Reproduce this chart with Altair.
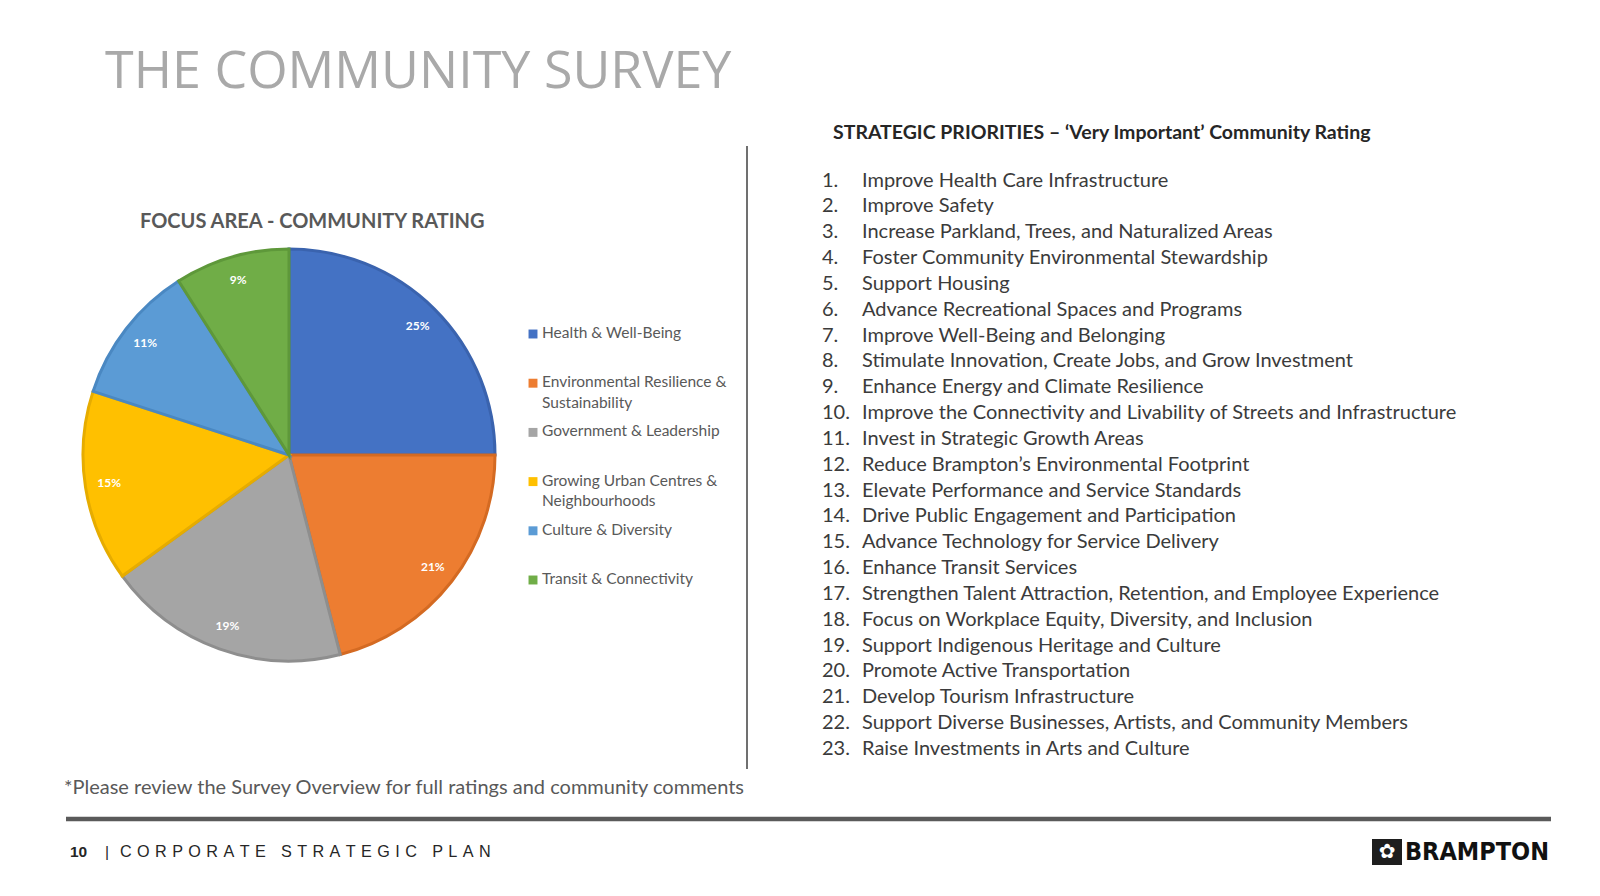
import altair as alt
import pandas as pd

# ---------------- data ----------------
TITLE = "THE COMMUNITY SURVEY"
PIE_TITLE = "FOCUS AREA - COMMUNITY RATING"
LIST_TITLE = "STRATEGIC PRIORITIES – ‘Very Important’ Community Rating"
FOOTNOTE = "*Please review the Survey Overview for full ratings and community comments"
PAGE_NUM = "10"
FOOTER = "CORPORATE STRATEGIC PLAN"
BRAND = "BRAMPTON"

focus_areas = [
    "Health & Well-Being",
    "Environmental Resilience & Sustainability",
    "Government & Leadership",
    "Growing Urban Centres & Neighbourhoods",
    "Culture & Diversity",
    "Transit & Connectivity",
]
legend_labels = [
    "Health & Well-Being",
    "Environmental Resilience &\nSustainability",
    "Government & Leadership",
    "Growing Urban Centres &\nNeighbourhoods",
    "Culture & Diversity",
    "Transit & Connectivity",
]
shares = [25, 21, 19, 15, 11, 9]
colors = ["#4472C4", "#ED7D31", "#A5A5A5", "#FFC000", "#5B9BD5", "#70AD47"]
edges = ["#3A63AE", "#D46A22", "#8E8E8E", "#E6AC00", "#4A88C2", "#5E983A"]

priorities = [
    "Improve Health Care Infrastructure",
    "Improve Safety",
    "Increase Parkland, Trees, and Naturalized Areas",
    "Foster Community Environmental Stewardship",
    "Support Housing",
    "Advance Recreational Spaces and Programs",
    "Improve Well-Being and Belonging",
    "Stimulate Innovation, Create Jobs, and Grow Investment",
    "Enhance Energy and Climate Resilience",
    "Improve the Connectivity and Livability of Streets and Infrastructure",
    "Invest in Strategic Growth Areas",
    "Reduce Brampton’s Environmental Footprint",
    "Elevate Performance and Service Standards",
    "Drive Public Engagement and Participation",
    "Advance Technology for Service Delivery",
    "Enhance Transit Services",
    "Strengthen Talent Attraction, Retention, and Employee Experience",
    "Focus on Workplace Equity, Diversity, and Inclusion",
    "Support Indigenous Heritage and Culture",
    "Promote Active Transportation",
    "Develop Tourism Infrastructure",
    "Support Diverse Businesses, Artists, and Community Members",
    "Raise Investments in Arts and Culture",
]

# ---------------- tables ----------------
pie_df = pd.DataFrame({
    "area": focus_areas,
    "share": shares,
    "idx": list(range(len(shares))),
    "label": [f"{s}%" for s in shares],
})
leg_df = pd.DataFrame({
    "area": focus_areas,
    "label": legend_labels,
    "pos": list(range(1, len(focus_areas) + 1)),
})
list_df = pd.DataFrame({
    "rank": list(range(1, len(priorities) + 1)),
    "num": [f"{i}." for i in range(1, len(priorities) + 1)],
    "item": priorities,
})

SP = "\u2004"
footer_spaced = (SP + " " + SP).join(SP.join(w) for w in FOOTER.split(" "))

BODY_FONT = "Lato"
W, H = 1584, 880
CX, CY, R = 281, 447, 206


def text_layer(value, x, y, **kw):
    return alt.Chart(pd.DataFrame({"t": [value]})).mark_text(**kw).encode(
        x=alt.value(x), y=alt.value(y), text="t:N"
    )


color_scale = alt.Scale(domain=focus_areas, range=colors)

title = text_layer(TITLE, 97, 64, align="left", baseline="middle",
                   font="Open Sans", fontSize=52, color="#A9A9A9")

pie_title = text_layer(PIE_TITLE, 132, 214, align="left", baseline="middle",
                       font=BODY_FONT, fontWeight="bold", fontSize=20, color="#595959")

pie = alt.Chart(pie_df).mark_arc(outerRadius=R, strokeWidth=3).encode(
    theta=alt.Theta("share:Q", stack=True),
    order=alt.Order("idx:Q"),
    color=alt.Color("area:N", scale=color_scale, legend=None),
    stroke=alt.Stroke("area:N", scale=alt.Scale(domain=focus_areas, range=edges), legend=None),
    x=alt.value(CX), y=alt.value(CY),
)

pie_labels = alt.Chart(pie_df).mark_text(
    radius=182, font=BODY_FONT, fontWeight="bold", fontSize=12, color="white"
).encode(
    theta=alt.Theta("share:Q", stack=True),
    order=alt.Order("idx:Q"),
    text="label:N",
    x=alt.value(CX), y=alt.value(CY),
)

leg_y = alt.Y("pos:Q", scale=alt.Scale(domain=[1, 6], range=[326, 572], nice=False, zero=False), axis=None)
leg_sq = alt.Chart(leg_df).mark_square(size=80, opacity=1, filled=True).encode(
    x=alt.value(525), y=leg_y,
    color=alt.Color("area:N", scale=color_scale, legend=None),
)
leg_tx = alt.Chart(leg_df).mark_text(
    align="left", baseline="top", dy=-8, lineBreak="\n", lineHeight=20.5,
    font=BODY_FONT, fontSize=15.5, color="#595959",
).encode(x=alt.value(534), y=leg_y, text="label:N")

divider = alt.Chart(pd.DataFrame({"a": [0]})).mark_rule(color="#404040", strokeWidth=1.5).encode(
    x=alt.value(739), y=alt.value(138), y2=alt.value(761)
)

list_title = text_layer(LIST_TITLE, 825, 125, align="left", baseline="middle",
                        font=BODY_FONT, fontWeight="bold", fontSize=19.5, color="#262626")

list_y = alt.Y("rank:Q", scale=alt.Scale(domain=[1, 23], range=[172.6, 741], nice=False, zero=False), axis=None)
list_num = alt.Chart(list_df).mark_text(
    align="left", baseline="middle", font=BODY_FONT, fontSize=20, color="#3B3B3B"
).encode(x=alt.value(814), y=list_y, text="num:N")
list_item = alt.Chart(list_df).mark_text(
    align="left", baseline="middle", font=BODY_FONT, fontSize=20, color="#3B3B3B"
).encode(x=alt.value(854), y=list_y, text="item:N")

footnote = text_layer(FOOTNOTE, 56, 780, align="left", baseline="middle",
                      font=BODY_FONT, fontSize=20, color="#595959")

hr = alt.Chart(pd.DataFrame({"a": [0]})).mark_rule(color="#5A5A5A", strokeWidth=4.5).encode(
    x=alt.value(58), x2=alt.value(1543), y=alt.value(811)
)

page_num = text_layer(PAGE_NUM, 62, 844, align="left", baseline="middle",
                      font="Liberation Sans", fontWeight="bold", fontSize=15.5, color="#262626")
bar = text_layer("|", 97, 844, align="left", baseline="middle",
                 font="Liberation Sans", fontSize=15.5, color="#262626")
footer = text_layer(footer_spaced, 112, 844, align="left", baseline="middle",
                    font="Liberation Sans", fontSize=16.2, color="#262626")

logo_box = alt.Chart(pd.DataFrame({"a": [0]})).mark_rect(color="#1E1E1E").encode(
    x=alt.value(1364), x2=alt.value(1394), y=alt.value(831), y2=alt.value(857)
)
logo_mark = text_layer("✿", 1379, 844, align="center", baseline="middle",
                       font="DejaVu Sans", fontSize=20, color="white")
brand = text_layer(BRAND, 1541, 844, align="right", baseline="middle",
                   font="Liberation Sans Narrow, DejaVu Sans Condensed, Roboto Condensed, Liberation Sans",
                   fontWeight="bold", fontSize=25, color="#111111")

chart = alt.layer(
    title, pie_title, pie, pie_labels, leg_sq, leg_tx, divider, list_title,
    list_num, list_item, footnote, hr, page_num, bar, footer, logo_box, logo_mark, brand,
).resolve_scale(
    x="independent", y="independent"
).properties(
    width=W, height=H, padding=0, autosize=alt.AutoSizeParams(type="none"),
    background="white",
).configure_view(stroke=None)

chart.save("out.html", embed_options={"renderer": "svg", "actions": False})
